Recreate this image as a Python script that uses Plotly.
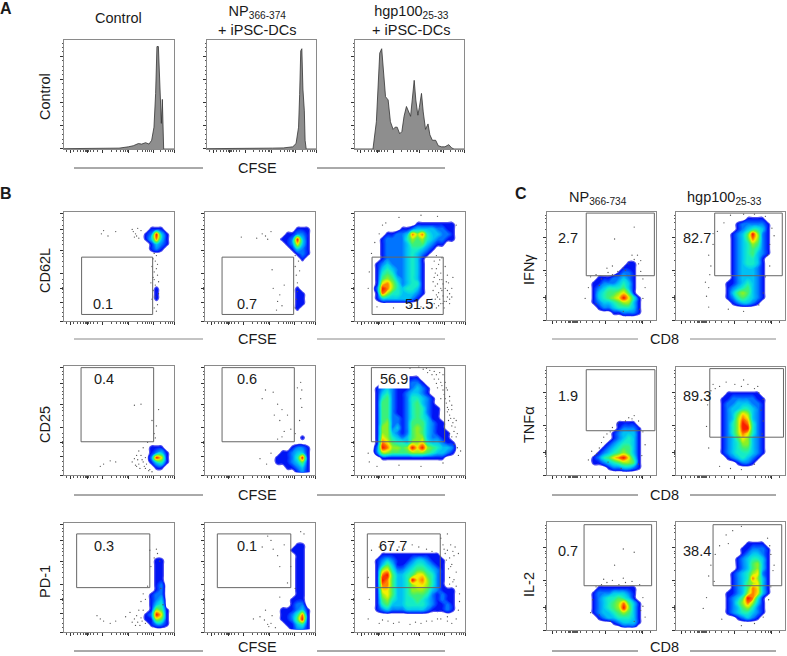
import plotly.graph_objects as go

W, H = 787, 656
FONT = "Liberation Sans"
N = 22  # density grid size, cells per side

# histograms of panel A, x and y in percent of the panel
hist1_x = [0, 20, 41.8, 50, 58.5, 63, 67.6, 70.6, 74.2, 77.3, 79.7, 81.8, 83.3, 84.5, 85.8, 86.7, 87.6, 88.5, 89.4, 90, 90.6, 100]
hist1_y = [0.3, 0.3, 0.5, 0.8, 2, 3, 5, 4.5, 5.8, 4.5, 8, 20, 51, 94, 94, 63, 33, 23.5, 45.5, 23, 0, 0]
hist2_x = [0, 40, 60, 70, 78.7, 81.7, 84, 85, 86, 87, 88, 89.3, 90, 91, 100]
hist2_y = [0.3, 0.3, 0.8, 1, 2, 5, 20, 50, 90, 92, 55, 35, 8, 0, 0]
hist3_x = [0, 16.5, 19.6, 21, 22.7, 24.5, 26.4, 28, 30.4, 32.5, 35, 36.8, 38.7, 41, 43, 45, 47.2, 49, 51, 52.5, 54.3, 55.8,
           57.7, 59, 61, 62.6, 64.7, 67, 68.7, 71, 74, 76.4, 79.4, 82.5, 86, 88.7, 90.8, 100]
hist3_y = [0, 0, 25, 60, 88, 92, 63, 48, 45, 25, 18, 20, 20, 14, 16, 30, 39, 35, 30, 45, 63, 45,
           31, 38, 51, 34, 18, 23, 13, 8, 8, 3, 2, 2, 4, 1, 0, 0]

# density levels, row 0 on top: . empty, 1 blue ... 9 red
d_b1_1 = ["......................", "......................", "......................",
          ".................111..", "................12931.", "................13831.",
          ".................1321.", ".................121..", "......................",
          "......................", "......................", "......................",
          "......................", "......................", "......................",
          "..................1...", "..................1...", "..................1...",
          "......................", "......................", "......................", "......................"]
d_b1_2 = ["......................", "......................", "......................",
          "..................111.", "................11221.", "...............112931.",
          "................12731.", ".................1321.", "..................121.",
          "...................1..", "......................", "......................",
          "......................", "......................", "......................",
          "..................1...", "..................11..", "..................11..",
          "..................11..", "..................1...", "......................", "......................"]
d_b1_3 = ["......................", "......................", "............11111111..",
          ".........11233332211..", "......11223868433221..", ".....122224656432211..",
          ".....1222235553211....", ".....12222344321......", ".....1222234321.......",
          ".....122223431........", "....1232223431........", "....1343223431........",
          "....1454223431........", "....1565323431........", "....1786423441........",
          "....2986434431........", "....1864433321........", "....133333321.........",
          "......................", "......................", "......................", "......................"]
d_b2_1 = ["......................"] * 16 + [
          ".................111..", ".................1231.", ".................2971.",
          ".................1341.", "..................11..", "......................"]
d_b2_2 = ["......................"] * 14 + [
          "...................1..", "......................", ".................1221.",
          "...............112331.", "..............1112491.", "..............1112351.",
          "................11231.", "..................121."]
d_b2_3 = ["......................", "......................", ".....11111111.........",
          ".....122111221........", "....12321112321.......", "....13421123321.......",
          "....145211244321......", "....155211245321......", "....1552112454211.....",
          "....1552112454211.....", "....1552212454311.....", "....15622125553211....",
          "....16623125653211....", "....166321256532111...", "....176432356632211...",
          "....1875443667433211..", "....2986656979654332..", "....2665555666543321..",
          ".....1111111111111....", "......................", "......................", "......................"]
d_b3_1 = ["......................"] * 7 + [
          "..................11..", "..................11..", "..................11..",
          "..................11..", "..................11..", "..................12..",
          "..................12..", ".................122..", ".................123..",
          ".................134..", ".................1651.", "................12971.",
          "................11651.", ".................1221.", "......................"]
d_b3_2 = ["......................", "......................", "......................",
          "......................", "..................11..", ".................111..",
          "..................11..", "..................11..", "..................11..",
          "..................11..", "..................11..", "..................11..",
          "..................11..", "..................11..", "..................11..",
          ".................111..", ".................122..", "...............111231.",
          "...............112481.", "...............112591.", "................11341.", ".................1221."]
d_b3_3 = ["......................", "......................", "......................",
          "......................", "......................", "......................",
          ".....111111111111.....", "....12321112332111....", "....13531123443211....",
          "....16742234554321....", "....18953345775421....", "....19853349786421....",
          "....18853346776421....", "....1775334666532111..", "....1675334555421211..",
          "....1564334454321211..", "....1453334444321121..", "....1232223333211121..",
          "......................", "......................", "......................", "......................"]
d_c1_1 = ["......................"] * 10 + [
          "................11....", "...............111....", "..............1221....",
          "..........11122321....", ".........112223431....", ".........123444531....",
          ".........134556751....", ".........1345679741...", ".........1233456631...",
          "..........122344431...", ".............112221...", "......................"]
d_c1_2 = ["......................", "..............1111....", "............1222221...",
          "............1234431...", "...........12359621...", "...........12358621...",
          "...........12346521...", "...........12345421...", "...........12345321...",
          "...........1234431....", "...........1234431....", "...........1233321....",
          "...........1233321....", "...........1233321....", "..........11234321....",
          "..........12345321....", "..........13565321....", "..........12454321....",
          "...........123321.....", "......................", "......................", "......................"]
d_c2_1 = ["......................"] * 11 + [
          "..............1111....", "..............12221...", ".............123331...",
          ".............123431...", "............1234431...", "...........12345531...",
          "..........123456531...", ".........1245789741...", ".........1123456651...",
          "............1223321...", "......................"]
d_c2_2 = ["......................", "......................", "......................",
          "......................", "......................", "..........1111111.....",
          ".........112222211....", ".........122333221....", ".........123344321....",
          ".........123576321....", ".........123687321....", ".........124698421....",
          ".........124699421....", ".........124687421....", ".........123576321....",
          ".........123466321....", ".........123455321....", ".........123444321....",
          "..........1234321.....", "............1221......", "......................", "......................"]
d_c3_1 = ["......................"] * 13 + [
          "..........11111111....", ".........122233321....", ".........123445431....",
          ".........1234568531...", ".........1234569631...", ".........1233456531...",
          "..........123344431...", ".............123331...", "...............111...."]
d_c3_2 = ["......................", "......................", "......................",
          "......................", "..............1111....", ".............112221...",
          ".............123321...", "............1234431...", "............1235631...",
          "............1235631...", "...........12346721...", "...........12348631...",
          "...........12356731...", "...........12358731...", "..........112368731...",
          "..........12359841....", "..........12468631....", "..........12356421....",
          "..........12344321....", "............12321.....", "......................", "......................"]

# loose events around the populations, (x, y) in percent of the panel
dots_b1_1 = [(65, 80), (63, 82), (66, 78), (68, 76), (62, 84), (70, 83), (64, 77), (67, 85), (34, 80), (36, 83), (40, 78),
             (47, 82), (80, 50), (82, 45), (83, 55), (81, 40), (84, 48), (82, 38), (85, 42), (83, 33), (81, 28), (84, 60),
             (82, 62), (85, 52), (83, 22), (80, 20), (85, 15), (82, 12), (84, 9), (86, 25), (79, 35), (86, 36), (81, 57)]
dots_b1_2 = [(55, 78), (57, 75), (52, 80), (60, 82), (33, 77), (47, 76), (82, 50), (83, 42), (85, 55), (84, 35), (82, 60),
             (62, 30), (66, 18), (68, 24), (65, 10), (70, 14), (61, 47), (72, 33), (84, 27), (82, 12), (86, 46), (83, 20)]
dots_b1_3 = [(72, 55), (74, 48), (76, 52), (78, 44), (72, 40), (75, 34), (79, 38), (82, 30), (84, 42), (71, 28), (74, 24),
             (77, 20), (80, 23), (83, 18), (86, 25), (88, 30), (72, 16), (76, 14), (81, 12), (86, 16), (70, 12), (78, 30),
             (85, 35), (73, 32), (82, 50), (79, 58), (74, 60), (88, 22), (89, 40), (76, 26), (84, 28), (70, 20), (80, 16),
             (25, 88), (28, 90), (22, 80), (18, 72), (12, 30), (13, 45), (15, 62), (40, 95), (60, 97), (75, 96), (92, 88),
             (70, 48), (71, 36), (73, 44), (75, 22), (77, 38), (79, 28), (81, 18), (83, 36), (73, 20), (69, 16), (67, 12),
             (75, 42), (77, 56), (80, 34), (86, 20), (84, 22), (78, 16), (74, 12), (60, 13), (50, 14), (35, 12), (20, 13)]
dots_b2_1 = [(62, 12), (64, 15), (66, 18), (68, 22), (65, 9), (68, 10), (71, 14), (73, 8), (70, 18), (72, 25), (74, 6),
             (67, 14), (76, 30), (75, 10), (78, 5), (80, 3), (72, 12), (69, 6), (33, 8), (36, 10), (42, 13), (47, 12),
             (82, 38), (84, 45), (80, 50), (70, 65), (64, 64), (86, 60), (83, 34), (77, 4), (74, 16), (66, 8)]
dots_b2_2 = [(55, 78), (62, 76), (66, 65), (63, 55), (68, 50), (70, 35), (72, 40), (66, 33), (78, 42), (84, 80), (87, 85),
             (88, 62), (87, 70), (86, 50), (50, 15), (56, 10), (60, 20), (52, 70), (70, 60), (75, 55), (82, 38), (88, 78)]
dots_b2_3 = [(74, 92), (78, 85), (80, 78), (82, 70), (84, 62), (86, 55), (80, 92), (84, 78), (86, 68), (88, 45), (90, 40),
             (92, 35), (78, 70), (75, 80), (72, 88), (90, 28), (94, 18), (93, 25), (84, 58), (88, 60), (82, 85), (86, 38),
             (92, 50), (12, 20), (13, 12), (20, 8), (40, 9), (60, 8), (80, 11), (50, 98), (58, 99), (68, 96), (65, 98),
             (76, 88), (79, 82), (81, 74), (83, 66), (85, 60), (87, 52), (89, 48), (77, 94), (70, 92), (62, 97), (91, 44),
             (93, 38), (83, 80), (86, 72), (88, 64), (90, 52), (88, 35), (96, 22), (85, 50), (74, 84), (72, 95), (66, 94)]
dots_b3_1 = [(72, 35), (70, 28), (68, 20), (66, 15), (64, 12), (62, 9), (67, 9), (70, 13), (72, 20), (74, 8), (69, 6),
             (33, 12), (36, 10), (42, 8), (47, 10), (85, 72), (82, 68), (87, 65), (84, 76), (78, 75), (79, 60), (88, 40),
             (90, 25), (74, 30), (76, 42), (71, 10), (65, 6), (30, 15), (60, 18), (56, 14)]
dots_b3_2 = [(57, 88), (60, 84), (62, 76), (66, 70), (52, 78), (72, 80), (68, 60), (60, 8), (54, 11), (57, 7), (61, 15),
             (55, 20), (50, 14), (64, 4), (58, 5), (78, 60), (82, 40), (87, 92), (90, 90), (44, 12), (75, 45), (68, 32)]
dots_b3_3 = [(80, 80), (84, 75), (86, 68), (88, 62), (85, 58), (82, 72), (87, 80), (90, 70), (92, 55), (86, 50), (89, 46),
             (92, 42), (95, 35), (94, 20), (92, 12), (88, 8), (84, 14), (78, 12), (70, 10), (60, 8), (50, 7), (40, 9),
             (30, 10), (22, 8), (12, 12), (13, 30), (12, 50), (15, 75), (22, 78), (32, 80), (45, 76), (58, 78), (70, 74),
             (78, 86), (84, 90), (94, 72), (91, 78), (83, 66), (87, 60), (89, 74), (81, 76), (86, 44), (90, 48), (95, 28),
             (84, 10), (75, 12), (65, 10), (55, 9), (35, 8), (25, 11), (40, 78), (52, 80), (65, 76)]
dots_c1_1 = [(56, 44), (60, 50), (65, 45), (70, 48), (75, 52), (80, 56), (78, 60), (84, 52), (86, 45), (88, 38), (50, 38),
             (45, 42), (40, 40), (60, 42), (55, 48), (83, 60), (90, 30), (88, 20), (85, 10), (70, 8), (62, 75), (80, 86),
             (48, 32), (38, 30), (35, 20), (45, 15), (72, 46), (86, 55)]
dots_c1_2 = [(30, 60), (32, 50), (34, 70), (30, 30), (28, 22), (30, 12), (38, 82), (44, 90), (50, 97), (62, 98), (72, 98),
             (82, 96), (88, 85), (86, 70), (84, 60), (82, 40), (80, 25), (76, 14), (62, 8), (48, 10), (34, 80), (31, 42),
             (27, 35), (86, 50), (90, 78)]
dots_c2_1 = [(50, 30), (48, 25), (46, 20), (44, 18), (55, 38), (60, 44), (65, 48), (72, 50), (78, 52), (84, 50), (88, 40),
             (90, 28), (87, 18), (84, 10), (68, 6), (56, 12), (38, 14), (41, 22), (52, 35), (58, 40), (80, 55), (75, 53)]
dots_c2_2 = [(32, 78), (36, 80), (40, 82), (46, 86), (54, 84), (60, 82), (66, 84), (72, 80), (76, 76), (80, 70), (78, 60),
             (80, 50), (79, 38), (72, 10), (60, 5), (50, 6), (40, 8), (30, 25), (28, 45), (29, 65), (34, 84), (75, 82), (62, 88)]
dots_c3_1 = [(45, 40), (50, 42), (55, 44), (60, 46), (66, 42), (72, 44), (78, 45), (85, 42), (88, 30), (86, 18), (80, 8),
             (90, 12), (42, 28), (40, 16), (48, 14), (58, 8), (62, 60), (70, 75), (80, 72), (70, 48), (52, 47), (88, 22)]
dots_c3_2 = [(30, 50), (32, 60), (36, 70), (40, 78), (46, 88), (52, 92), (60, 96), (84, 85), (87, 70), (89, 55), (87, 40),
             (85, 28), (80, 12), (72, 6), (60, 4), (42, 10), (28, 30), (25, 20), (90, 60), (86, 78), (48, 80), (35, 45)]

# gates: x0, y0, x1, y1 in percent of the panel
gates_b = [[16, 6, 80.6, 58.6], [15.5, 6, 80.6, 58.6], [15.5, 6, 80.2, 58.6],
           [15.5, 30.5, 81.5, 98.5], [15.5, 30.5, 81.2, 98.5], [14.9, 30.5, 81.5, 98.5],
           [11.5, 40.7, 78, 90], [11.2, 40.7, 78, 90], [11.2, 40.7, 77.5, 90]]
gates_c = [[36, 41, 98.5, 99], [35.5, 41, 97.5, 99],
           [36, 41, 99, 97.5], [31, 35, 98.6, 98.5],
           [34, 41, 96, 97.5], [34, 41, 97, 97.5]]

labels_b = ["0.1", "0.7", "51.5", "0.4", "0.6", "56.9", "0.3", "0.1", "67.7"]
labels_c = ["2.7", "82.7", "1.9", "89.3", "0.7", "38.4"]

# tick marks
x_major = [5.5, 21, 35, 59, 81, 100]
x_minor = [2, 9, 12, 15, 18, 19.5, 20, 20.5, 21.5, 22, 22.5, 24, 27, 30, 43, 48, 51, 54, 56, 57.5, 67, 71, 74, 76, 78, 79.5, 88, 92, 95, 97, 98.5]
x_major_c = [5, 54, 88]
x_minor_c = [9, 13, 17, 20, 21, 22, 23, 24, 25, 26, 27, 28, 31, 36, 42, 48, 66, 73, 78, 82, 85, 86.5, 95]
y_major_a = [0.6, 22, 43, 64, 85]
y_minor_a = [5, 9, 13, 18, 26, 30, 34, 39, 47, 51, 55, 60, 68, 72, 76, 81, 89, 93, 97]
y_major_b = [0, 17, 30, 44, 65, 84, 99]
y_minor_b = [4, 8, 12, 22, 26, 29, 29.5, 30.5, 31, 34, 38, 50, 55, 59, 62, 70, 74, 77, 80, 88, 92, 95]
y_major_c = [0, 21, 46, 76]
y_minor_c = [6, 12, 17, 19, 20, 22, 23, 30, 36, 41, 43, 55, 62, 67, 71, 73, 84, 90, 94, 97]

# panel boxes in page pixels: left, top, right, bottom
boxes_a = [(64, 40, 174, 149), (207, 40, 316, 149), (355, 40, 464, 149)]
boxes_b = [(64, 212, 174, 321), (205, 212, 315, 321), (355, 212, 465, 321),
           (64, 366, 174, 475), (205, 366, 315, 475), (355, 366, 465, 475),
           (64, 523, 174, 632), (205, 523, 315, 632), (355, 523, 465, 632)]
boxes_c = [(547, 212, 656, 320), (676, 212, 785, 320),
           (547, 367, 656, 475), (676, 367, 785, 475),
           (547, 522, 656, 630), (676, 522, 785, 630)]

density_b = [d_b1_1, d_b1_2, d_b1_3, d_b2_1, d_b2_2, d_b2_3, d_b3_1, d_b3_2, d_b3_3]
density_c = [d_c1_1, d_c1_2, d_c2_1, d_c2_2, d_c3_1, d_c3_2]
dots_b = [dots_b1_1, dots_b1_2, dots_b1_3, dots_b2_1, dots_b2_2, dots_b2_3, dots_b3_1, dots_b3_2, dots_b3_3]
dots_c = [dots_c1_1, dots_c1_2, dots_c2_1, dots_c2_2, dots_c3_1, dots_c3_2]

# label centres in page pixels
label_pos_b = [(103, 304), (247, 304), (419, 304), (104, 379), (247, 379), (394, 379), (104, 546), (247, 546), (393, 546)]
label_pos_c = [(568, 238), (697, 238), (568, 396), (697, 396), (568, 551), (697, 551)]

# contour fills map the scale onto the contour levels, 0.375 to 9.125
jet = [[0, "#ffffff"], [0.012, "#ffffff"], [0.016, "#0000e8"], [0.071, "#0028ff"], [0.186, "#0088ff"],
       [0.3, "#00ccf0"], [0.414, "#18f0c0"], [0.529, "#40f070"], [0.643, "#90f020"],
       [0.757, "#f8f000"], [0.871, "#ff8000"], [1, "#f81000"]]

fig = go.Figure()
layout = {}
shapes = []
annotations = []
count = 0


def add_axes(box, xt, xm, yt, ym):
    global count
    count += 1
    left, top, right, bottom = box
    line = dict(showgrid=False, zeroline=False, showticklabels=False, showline=True, mirror=True,
                linecolor="#8a8a8a", linewidth=1, ticks="outside", ticklen=3, tickcolor="#333333",
                tickwidth=1, range=[0, 100], fixedrange=True)
    layout[f"xaxis{count}"] = dict(line, domain=[left / W, right / W], anchor=f"y{count}", tickvals=xt,
                                   minor=dict(tickvals=xm, ticks="outside", ticklen=1.5, tickcolor="#555555"))
    layout[f"yaxis{count}"] = dict(line, domain=[1 - bottom / H, 1 - top / H], anchor=f"x{count}", tickvals=yt,
                                   minor=dict(tickvals=ym, ticks="outside", ticklen=1.5, tickcolor="#555555"))
    return f"x{count}", f"y{count}"


def add_text(text, px, py, size=14.5, **kw):
    annotations.append(dict(text=text, x=px / W, y=1 - py / H, xref="paper", yref="paper", showarrow=False,
                            xanchor="center", yanchor="middle", font=dict(family=FONT, size=size, color="#1a1a1a"), **kw))


def add_rule(x0, x1, py, color="#555555"):
    shapes.append(dict(type="line", xref="paper", yref="paper", x0=x0 / W, x1=x1 / W, y0=1 - py / H, y1=1 - py / H,
                       line=dict(color=color, width=1)))


def density_panel(rows, dots, gate, box, xt, xm, yt, ym):
    xa, ya = add_axes(box, xt, xm, yt, ym)
    z = [[0 if ch == "." else int(ch) for ch in row] for row in rows[::-1]]
    fig.add_trace(go.Contour(z=z, x0=100 / N / 2, dx=100 / N, y0=100 / N / 2, dy=100 / N, xaxis=xa, yaxis=ya,
                             colorscale=jet, zmin=0, zmax=9, showscale=False, hoverinfo="skip",
                             contours=dict(coloring="fill", start=0.5, end=9, size=0.25, showlines=False),
                             line=dict(width=0, smoothing=1.3)))
    fig.add_trace(go.Scatter(x=[d[0] for d in dots], y=[d[1] for d in dots], xaxis=xa, yaxis=ya, mode="markers",
                             marker=dict(size=1.3, color="#555555", line=dict(width=0)), hoverinfo="skip"))
    shapes.append(dict(type="rect", xref=xa, yref=ya, x0=gate[0], y0=gate[1], x1=gate[2], y1=gate[3],
                       line=dict(color="#666666", width=1)))


# panel A
for box, hx, hy in zip(boxes_a, [hist1_x, hist2_x, hist3_x], [hist1_y, hist2_y, hist3_y]):
    xa, ya = add_axes(box, x_major, x_minor, y_major_a, y_minor_a)
    fig.add_trace(go.Scatter(x=hx, y=hy, xaxis=xa, yaxis=ya, mode="lines", fill="tozeroy", fillcolor="#8e8e8e",
                             line=dict(color="#333333", width=0.8), hoverinfo="skip"))

# panel B
for i in range(9):
    density_panel(density_b[i], dots_b[i], gates_b[i], boxes_b[i], x_major, x_minor, y_major_b, y_minor_b)
    add_text(labels_b[i], *label_pos_b[i], bgcolor="#ffffff" if labels_b[i] == "56.9" else None)

# panel C
for i in range(6):
    density_panel(density_c[i], dots_c[i], gates_c[i], boxes_c[i], x_major_c, x_minor_c, y_major_c, y_minor_c)
    add_text(labels_c[i], *label_pos_c[i])

add_text("<b>A</b>", 6, 9, size=16)
add_text("<b>B</b>", 6, 194, size=16)
add_text("<b>C</b>", 521, 194, size=16)
add_text("Control", 118, 18)
add_text("NP<sub>366-374</sub><br>+ iPSC-DCs", 257, 20)
add_text("hgp100<sub>25-33</sub><br>+ iPSC-DCs", 411, 20)
add_text("NP<sub>366-734</sub>", 598, 198)
add_text("hgp100<sub>25-33</sub>", 724, 198)

for name, py in [("Control", 97), ("CD62L", 271), ("CD25", 425), ("PD-1", 582)]:
    add_text(name, 45, py, textangle=-90)
for name, py in [("IFNγ", 270), ("TNFα", 425), ("IL-2", 585)]:
    add_text(name, 529, py, textangle=-90)

for py, color in [(168, "#555555"), (339, "#888888"), (495, "#555555"), (651, "#555555")]:
    add_rule(74, 203, py, color)
    add_rule(317, 445, py, color)
for py in [168, 339, 495, 647]:
    add_text("CFSE", 257, py)
for py, color in [(339, "#888888"), (495, "#555555"), (651, "#555555")]:
    add_rule(552, 638, py, color)
    add_rule(690, 776, py, color)
for py in [339, 495, 647]:
    add_text("CD8", 664, py)

fig.update_layout(width=W, height=H, margin=dict(l=0, r=0, t=0, b=0), showlegend=False,
                  paper_bgcolor="white", plot_bgcolor="white", shapes=shapes, annotations=annotations, **layout)
fig.write_html("out.html", config={"displayModeBar": False}, post_script="document.body.style.margin='0';")
